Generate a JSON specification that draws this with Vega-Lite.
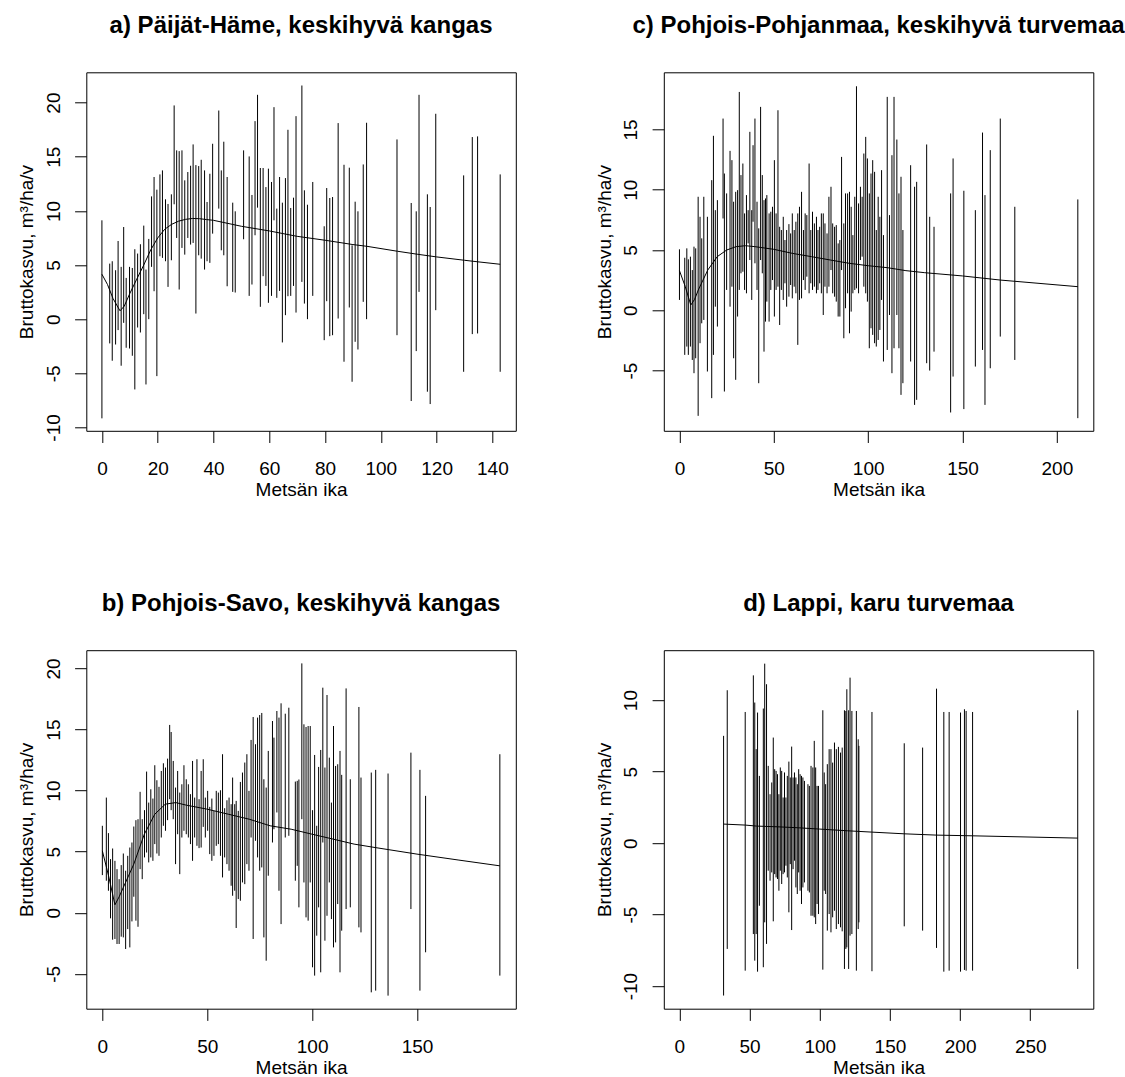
{
  "$schema": "https://vega.github.io/schema/vega-lite/v6.json",
  "autosize": {"type": "none"},
  "padding": {"left": 86.3, "top": 72.3, "right": 1038.7, "bottom": 1004.7},
  "background": "white",
  "columns": 2,
  "spacing": {"row": 218.9, "column": 147.5},
  "bounds": "flush",
  "config": {
    "font": "Liberation Sans",
    "view": {"stroke": "#000", "strokeWidth": 1},
    "axis": {
      "domain": false, "grid": false, "ticks": true,
      "tickColor": "#000", "tickSize": 11.7, "tickWidth": 1,
      "labelFont": "Liberation Sans", "labelFontSize": 19, "labelColor": "#000",
      "labelFlush": false, "labelOverlap": false,
      "titleFont": "Liberation Sans", "titleFontSize": 19, "titleFontWeight": "normal", "titleColor": "#000"
    },
    "axisX": {
      "labelAngle": 0, "labelAlign": "center", "labelBaseline": "alphabetic", "labelPadding": 31.6,
      "titleAlign": "center", "titleBaseline": "alphabetic", "titleX": 214.75, "titleY": 64.5
    },
    "axisY": {
      "labelAngle": 270, "labelAlign": "center", "labelBaseline": "alphabetic", "labelPadding": 15.3,
      "titleAngle": 270, "titleAlign": "center", "titleBaseline": "alphabetic", "titleX": -53.8, "titleY": 179.25
    },
    "title": {"font": "Liberation Sans", "fontSize": 24, "fontWeight": "bold", "color": "#000", "anchor": "middle", "baseline": "alphabetic", "offset": 34}
  },
  "datasets": {
    "a_janat": [
      {"ika": 0, "ala": -9.16, "yla": 9.13}, {"ika": 2.8, "ala": -2.24, "yla": 5.13}, {"ika": 3.7, "ala": -3.84, "yla": 5.35},
      {"ika": 4.9, "ala": -2.34, "yla": 4.52}, {"ika": 5.8, "ala": -1.01, "yla": 7.22}, {"ika": 6.9, "ala": -4.3, "yla": 4.83},
      {"ika": 7.8, "ala": -0.34, "yla": 8.51}, {"ika": 8.7, "ala": -2.64, "yla": 3.81}, {"ika": 9.9, "ala": -2.71, "yla": 4.83},
      {"ika": 10.9, "ala": -3.38, "yla": 4.73}, {"ika": 11.8, "ala": -6.49, "yla": 6.46}, {"ika": 12.8, "ala": -0.77, "yla": 6.06},
      {"ika": 13.8, "ala": -1.23, "yla": 6.92}, {"ika": 15.0, "ala": 0.46, "yla": 8.64}, {"ika": 15.8, "ala": -6.03, "yla": 4.58},
      {"ika": 16.8, "ala": 0.0, "yla": 7.41}, {"ika": 17.8, "ala": 4.83, "yla": 11.34}, {"ika": 18.7, "ala": 2.58, "yla": 13.13},
      {"ika": 19.7, "ala": -5.26, "yla": 11.96}, {"ika": 20.8, "ala": 5.81, "yla": 13.37}, {"ika": 21.7, "ala": 5.66, "yla": 13.74},
      {"ika": 22.8, "ala": 5.35, "yla": 11.07}, {"ika": 23.7, "ala": 2.98, "yla": 10.64}, {"ika": 24.9, "ala": 5.44, "yla": 11.53},
      {"ika": 25.9, "ala": 10.61, "yla": 19.74}, {"ika": 26.8, "ala": 7.5, "yla": 15.59}, {"ika": 27.7, "ala": 2.74, "yla": 15.52},
      {"ika": 28.7, "ala": 6.58, "yla": 15.59}, {"ika": 29.7, "ala": 5.96, "yla": 12.82}, {"ika": 30.8, "ala": 7.5, "yla": 13.59},
      {"ika": 31.8, "ala": 6.89, "yla": 14.17}, {"ika": 32.7, "ala": 7.04, "yla": 16.14}, {"ika": 33.7, "ala": 0.52, "yla": 14.23},
      {"ika": 34.7, "ala": 5.9, "yla": 14.14}, {"ika": 35.6, "ala": 5.59, "yla": 14.72}, {"ika": 36.8, "ala": 4.58, "yla": 13.74},
      {"ika": 37.7, "ala": 5.35, "yla": 10.82}, {"ika": 38.7, "ala": 5.2, "yla": 13.43}, {"ika": 39.7, "ala": 7.9, "yla": 16.2},
      {"ika": 41.9, "ala": 10.21, "yla": 19.27}, {"ika": 42.8, "ala": 6.36, "yla": 13.74}, {"ika": 43.7, "ala": 5.9, "yla": 16.39},
      {"ika": 44.9, "ala": 3.04, "yla": 13.13}, {"ika": 46.9, "ala": 2.52, "yla": 10.76}, {"ika": 47.8, "ala": 2.46, "yla": 9.96},
      {"ika": 50.8, "ala": 7.38, "yla": 15.59}, {"ika": 52.8, "ala": 2.15, "yla": 15.03}, {"ika": 53.8, "ala": 3.2, "yla": 11.47},
      {"ika": 54.9, "ala": 7.75, "yla": 18.29}, {"ika": 55.8, "ala": 10.3, "yla": 20.72}, {"ika": 56.8, "ala": 1.14, "yla": 13.96},
      {"ika": 57.8, "ala": 3.97, "yla": 13.96}, {"ika": 58.8, "ala": 3.07, "yla": 12.2}, {"ika": 59.7, "ala": 1.51, "yla": 13.9},
      {"ika": 60.8, "ala": 2.15, "yla": 12.67}, {"ika": 61.7, "ala": 9.13, "yla": 19.58}, {"ika": 62.7, "ala": 1.97, "yla": 10.21},
      {"ika": 63.7, "ala": 2.61, "yla": 13.13}, {"ika": 64.7, "ala": -2.15, "yla": 10.76}, {"ika": 65.8, "ala": 0.37, "yla": 13.03},
      {"ika": 66.7, "ala": 2.12, "yla": 17.49}, {"ika": 67.7, "ala": 2.15, "yla": 10.27}, {"ika": 68.7, "ala": 3.07, "yla": 11.22},
      {"ika": 69.6, "ala": 0.61, "yla": 18.75}, {"ika": 71.7, "ala": 3.44, "yla": 21.58}, {"ika": 72.6, "ala": 1.44, "yla": 11.9},
      {"ika": 73.7, "ala": 0.0, "yla": 10.57}, {"ika": 75.6, "ala": 2.15, "yla": 12.67}, {"ika": 79.7, "ala": -1.94, "yla": 8.58},
      {"ika": 80.6, "ala": 1.66, "yla": 12.11}, {"ika": 81.7, "ala": -1.57, "yla": 11.19}, {"ika": 82.7, "ala": -1.48, "yla": 11.28},
      {"ika": 84.7, "ala": 0.06, "yla": 18.11}, {"ika": 86.8, "ala": -3.93, "yla": 14.26}, {"ika": 88.7, "ala": 1.08, "yla": 13.99},
      {"ika": 89.7, "ala": -5.78, "yla": 6.82}, {"ika": 90.8, "ala": -2.09, "yla": 10.85}, {"ika": 91.8, "ala": -2.8, "yla": 9.96},
      {"ika": 93.7, "ala": 1.6, "yla": 14.29}, {"ika": 94.9, "ala": 0.0, "yla": 18.14}, {"ika": 105.8, "ala": -1.48, "yla": 16.6},
      {"ika": 110.9, "ala": -7.56, "yla": 10.73}, {"ika": 112.7, "ala": -2.95, "yla": 9.96}, {"ika": 113.7, "ala": 2.52, "yla": 20.72},
      {"ika": 116.7, "ala": -6.7, "yla": 11.53}, {"ika": 117.7, "ala": -7.84, "yla": 10.36}, {"ika": 119.7, "ala": 0.83, "yla": 18.97},
      {"ika": 129.7, "ala": -4.86, "yla": 13.28}, {"ika": 132.8, "ala": -1.38, "yla": 16.82}, {"ika": 134.7, "ala": -1.32, "yla": 16.88},
      {"ika": 142.8, "ala": -4.86, "yla": 13.37}
    ],
    "a_kayra": [
      {"ika": 0, "kasvu": 4.15}, {"ika": 2, "kasvu": 3.2}, {"ika": 4, "kasvu": 1.9}, {"ika": 6.5, "kasvu": 0.77},
      {"ika": 8, "kasvu": 1.2}, {"ika": 10, "kasvu": 2.37}, {"ika": 12.5, "kasvu": 3.7}, {"ika": 15, "kasvu": 5.0},
      {"ika": 17.5, "kasvu": 6.4}, {"ika": 20, "kasvu": 7.5}, {"ika": 22.5, "kasvu": 8.3}, {"ika": 25, "kasvu": 8.76},
      {"ika": 27.5, "kasvu": 9.05}, {"ika": 30, "kasvu": 9.22}, {"ika": 32.5, "kasvu": 9.3}, {"ika": 35, "kasvu": 9.28},
      {"ika": 37.5, "kasvu": 9.2}, {"ika": 40, "kasvu": 9.13}, {"ika": 50, "kasvu": 8.58}, {"ika": 60, "kasvu": 8.15},
      {"ika": 70, "kasvu": 7.65}, {"ika": 80, "kasvu": 7.29}, {"ika": 90, "kasvu": 6.89}, {"ika": 95, "kasvu": 6.73},
      {"ika": 106, "kasvu": 6.27}, {"ika": 113, "kasvu": 6.0}, {"ika": 120, "kasvu": 5.75}, {"ika": 130, "kasvu": 5.44},
      {"ika": 134.7, "kasvu": 5.3}, {"ika": 142.8, "kasvu": 5.07}
    ],
    "b_janat": [
      {"ika": 0, "ala": 3.08, "yla": 7.12}, {"ika": 1.9, "ala": 2.62, "yla": 9.43}, {"ika": 2.9, "ala": 1.8, "yla": 6.52},
      {"ika": 3.9, "ala": -0.46, "yla": 4.39}, {"ika": 4.9, "ala": -2.21, "yla": 5.26}, {"ika": 6.0, "ala": -2.15, "yla": 4.25},
      {"ika": 7.0, "ala": -2.56, "yla": 3.57}, {"ika": 8.0, "ala": -2.56, "yla": 2.75}, {"ika": 9.0, "ala": -1.96, "yla": 3.9},
      {"ika": 10.0, "ala": -2.02, "yla": 4.85}, {"ika": 11.1, "ala": -2.97, "yla": 3.44}, {"ika": 12.1, "ala": -1.34, "yla": 4.66},
      {"ika": 13.1, "ala": -2.84, "yla": 5.34}, {"ika": 14.1, "ala": -0.71, "yla": 5.75}, {"ika": 15.0, "ala": 1.31, "yla": 7.06},
      {"ika": 16.0, "ala": -0.65, "yla": 7.58}, {"ika": 17.0, "ala": -1.15, "yla": 7.66}, {"ika": 18.0, "ala": 3.57, "yla": 9.9},
      {"ika": 19.0, "ala": 2.75, "yla": 7.66}, {"ika": 20.1, "ala": 4.53, "yla": 8.4}, {"ika": 21.1, "ala": 4.93, "yla": 11.56},
      {"ika": 22.1, "ala": 4.12, "yla": 9.02}, {"ika": 23.1, "ala": 4.53, "yla": 10.11}, {"ika": 24.1, "ala": 4.25, "yla": 9.35},
      {"ika": 25.0, "ala": 5.62, "yla": 12.08}, {"ika": 26.0, "ala": 4.85, "yla": 10.85}, {"ika": 27.0, "ala": 4.66, "yla": 10.31},
      {"ika": 28.1, "ala": 6.16, "yla": 11.61}, {"ika": 29.1, "ala": 7.12, "yla": 12.24}, {"ika": 30.1, "ala": 6.71, "yla": 11.89},
      {"ika": 31.1, "ala": 7.58, "yla": 12.62}, {"ika": 32.1, "ala": 9.3, "yla": 15.38}, {"ika": 32.8, "ala": 8.4, "yla": 14.8},
      {"ika": 33.8, "ala": 7.66, "yla": 12.43}, {"ika": 34.9, "ala": 3.98, "yla": 10.25}, {"ika": 35.9, "ala": 6.43, "yla": 11.61},
      {"ika": 36.9, "ala": 3.16, "yla": 9.84}, {"ika": 37.9, "ala": 6.16, "yla": 10.52}, {"ika": 38.9, "ala": 6.71, "yla": 12.08},
      {"ika": 40.0, "ala": 6.43, "yla": 10.93}, {"ika": 41.0, "ala": 6.16, "yla": 10.52}, {"ika": 42.0, "ala": 5.62, "yla": 9.71},
      {"ika": 43.0, "ala": 4.25, "yla": 12.43}, {"ika": 44.0, "ala": 6.16, "yla": 9.43}, {"ika": 45.1, "ala": 5.48, "yla": 12.57},
      {"ika": 46.1, "ala": 5.29, "yla": 9.3}, {"ika": 47.1, "ala": 5.34, "yla": 11.61}, {"ika": 48.1, "ala": 7.03, "yla": 12.57},
      {"ika": 49.1, "ala": 6.16, "yla": 9.43}, {"ika": 50.2, "ala": 6.71, "yla": 9.98}, {"ika": 51.2, "ala": 4.8, "yla": 8.67},
      {"ika": 52.2, "ala": 4.25, "yla": 9.35}, {"ika": 53.2, "ala": 4.66, "yla": 8.34}, {"ika": 54.3, "ala": 5.48, "yla": 9.98},
      {"ika": 55.3, "ala": 5.62, "yla": 9.84}, {"ika": 56.3, "ala": 4.66, "yla": 10.03}, {"ika": 57.3, "ala": 2.89, "yla": 12.98},
      {"ika": 58.3, "ala": 4.53, "yla": 8.56}, {"ika": 59.4, "ala": 3.98, "yla": 9.21}, {"ika": 60.4, "ala": 3.44, "yla": 9.43},
      {"ika": 61.4, "ala": 2.21, "yla": 8.89}, {"ika": 62.1, "ala": 1.39, "yla": 11.07}, {"ika": 63.1, "ala": 1.8, "yla": 8.89},
      {"ika": 63.8, "ala": -1.25, "yla": 9.16}, {"ika": 64.8, "ala": 1.12, "yla": 8.34}, {"ika": 65.8, "ala": 0.98, "yla": 10.71},
      {"ika": 66.8, "ala": 2.48, "yla": 11.48}, {"ika": 67.9, "ala": 2.34, "yla": 12.3}, {"ika": 68.9, "ala": 3.98, "yla": 12.98},
      {"ika": 69.9, "ala": 3.44, "yla": 9.98}, {"ika": 70.9, "ala": 6.16, "yla": 14.15}, {"ika": 71.9, "ala": -2.15, "yla": 16.03},
      {"ika": 73.0, "ala": 5.89, "yla": 13.8}, {"ika": 74.0, "ala": 4.53, "yla": 15.98}, {"ika": 75.0, "ala": 3.44, "yla": 16.19},
      {"ika": 76.0, "ala": 3.71, "yla": 16.36}, {"ika": 77.0, "ala": -2.02, "yla": 10.93}, {"ika": 78.1, "ala": -3.93, "yla": 10.25},
      {"ika": 79.1, "ala": 3.03, "yla": 13.25}, {"ika": 81.1, "ala": 5.75, "yla": 15.7}, {"ika": 81.8, "ala": 6.84, "yla": 14.34},
      {"ika": 83.2, "ala": 8.21, "yla": 16.52}, {"ika": 84.2, "ala": 1.8, "yla": 15.98}, {"ika": 85.2, "ala": -0.93, "yla": 17.15},
      {"ika": 87.2, "ala": 6.16, "yla": 16.3}, {"ika": 88.9, "ala": 6.3, "yla": 16.79}, {"ika": 92.0, "ala": 2.62, "yla": 10.74},
      {"ika": 92.9, "ala": 3.84, "yla": 10.8}, {"ika": 93.7, "ala": 0.44, "yla": 10.91}, {"ika": 95.1, "ala": 7.66, "yla": 20.42},
      {"ika": 96.1, "ala": 2.48, "yla": 15.43}, {"ika": 97.1, "ala": -0.38, "yla": 15.21}, {"ika": 98.1, "ala": -0.65, "yla": 15.29},
      {"ika": 99.1, "ala": 2.48, "yla": 15.29}, {"ika": 100.2, "ala": -4.47, "yla": 8.4}, {"ika": 101.2, "ala": -5.15, "yla": 12.92},
      {"ika": 102.2, "ala": -1.88, "yla": 7.12}, {"ika": 103.1, "ala": 0.44, "yla": 11.94}, {"ika": 104.1, "ala": -4.88, "yla": 13.33},
      {"ika": 105.1, "ala": 5.75, "yla": 18.43}, {"ika": 106.1, "ala": -2.29, "yla": 11.89}, {"ika": 107.1, "ala": -0.25, "yla": 17.83},
      {"ika": 108.2, "ala": 2.48, "yla": 12.7}, {"ika": 109.2, "ala": -0.52, "yla": 9.02}, {"ika": 110.2, "ala": -2.84, "yla": 15.29},
      {"ika": 111.2, "ala": -2.43, "yla": 12.02}, {"ika": 112.2, "ala": 0.71, "yla": 12.16}, {"ika": 113.3, "ala": -4.88, "yla": 13.25},
      {"ika": 114.1, "ala": -1.47, "yla": 11.29}, {"ika": 116.2, "ala": 0.3, "yla": 18.37}, {"ika": 118.2, "ala": 0.44, "yla": 10.93},
      {"ika": 122.3, "ala": -1.2, "yla": 16.85}, {"ika": 123.3, "ala": -1.61, "yla": 11.07}, {"ika": 128.2, "ala": -6.52, "yla": 11.48},
      {"ika": 130.3, "ala": -6.38, "yla": 11.7}, {"ika": 136.2, "ala": -6.79, "yla": 11.4}, {"ika": 147.1, "ala": 0.3, "yla": 13.11},
      {"ika": 151.4, "ala": -6.38, "yla": 11.7}, {"ika": 154.1, "ala": -3.24, "yla": 9.57}, {"ika": 189.5, "ala": -5.15, "yla": 12.98}
    ],
    "b_kayra": [
      {"ika": 0, "kasvu": 5.07}, {"ika": 3, "kasvu": 3.0}, {"ika": 6, "kasvu": 0.65}, {"ika": 8, "kasvu": 1.3},
      {"ika": 10, "kasvu": 2.07}, {"ika": 15, "kasvu": 3.98}, {"ika": 20, "kasvu": 6.43}, {"ika": 25, "kasvu": 8.07},
      {"ika": 30, "kasvu": 8.89}, {"ika": 35, "kasvu": 9.02}, {"ika": 40, "kasvu": 8.81}, {"ika": 50, "kasvu": 8.48},
      {"ika": 60, "kasvu": 8.07}, {"ika": 70, "kasvu": 7.66}, {"ika": 80, "kasvu": 7.12}, {"ika": 90, "kasvu": 6.84},
      {"ika": 100, "kasvu": 6.43}, {"ika": 110, "kasvu": 6.03}, {"ika": 120, "kasvu": 5.62}, {"ika": 130, "kasvu": 5.34},
      {"ika": 150, "kasvu": 4.8}, {"ika": 170, "kasvu": 4.31}, {"ika": 189.5, "kasvu": 3.84}
    ],
    "c_janat": [
      {"ika": 0, "ala": 0.86, "yla": 5.06}, {"ika": 2.8, "ala": -3.7, "yla": 4.36}, {"ika": 3.9, "ala": -3.01, "yla": 5.14},
      {"ika": 4.7, "ala": -3.7, "yla": 4.23}, {"ika": 5.8, "ala": -3.01, "yla": 4.45}, {"ika": 6.8, "ala": -4.12, "yla": 3.34},
      {"ika": 7.7, "ala": -5.22, "yla": 5.28}, {"ika": 8.6, "ala": -3.98, "yla": 5.14}, {"ika": 9.9, "ala": -8.76, "yla": 9.42},
      {"ika": 10.9, "ala": -2.73, "yla": 7.76}, {"ika": 11.8, "ala": -1.08, "yla": 5.97}, {"ika": 12.9, "ala": -0.8, "yla": 9.42},
      {"ika": 14.8, "ala": -5.08, "yla": 7.76}, {"ika": 17.1, "ala": -7.29, "yla": 10.8}, {"ika": 18.0, "ala": -3.7, "yla": 14.48},
      {"ika": 19.0, "ala": 0.3, "yla": 8.31}, {"ika": 20.1, "ala": -1.35, "yla": 9.14}, {"ika": 23.1, "ala": 7.62, "yla": 15.91},
      {"ika": 23.8, "ala": -6.74, "yla": 11.35}, {"ika": 25.0, "ala": 1.69, "yla": 9.7}, {"ika": 26.8, "ala": 0.3, "yla": 13.23},
      {"ika": 27.8, "ala": 1.96, "yla": 12.46}, {"ika": 28.7, "ala": -3.98, "yla": 9.01}, {"ika": 29.8, "ala": -5.77, "yla": 9.83},
      {"ika": 30.8, "ala": -0.52, "yla": 9.97}, {"ika": 31.7, "ala": 1.69, "yla": 18.12}, {"ika": 32.6, "ala": 3.07, "yla": 11.22},
      {"ika": 33.6, "ala": 3.2, "yla": 12.18}, {"ika": 34.5, "ala": 1.69, "yla": 8.04}, {"ika": 35.5, "ala": 1.41, "yla": 9.56},
      {"ika": 36.4, "ala": 5.55, "yla": 8.31}, {"ika": 37.3, "ala": 4.17, "yla": 14.81}, {"ika": 38.3, "ala": 0.86, "yla": 8.31},
      {"ika": 39.0, "ala": 7.35, "yla": 13.7}, {"ika": 40.0, "ala": 3.9, "yla": 15.91}, {"ika": 41.1, "ala": 1.69, "yla": 9.01},
      {"ika": 42.0, "ala": -6.05, "yla": 6.8}, {"ika": 43.0, "ala": 4.17, "yla": 16.88}, {"ika": 43.9, "ala": 3.07, "yla": 11.22},
      {"ika": 44.8, "ala": -3.43, "yla": 9.14}, {"ika": 45.6, "ala": -0.94, "yla": 9.28}, {"ika": 46.3, "ala": 0.72, "yla": 9.56},
      {"ika": 47.5, "ala": -0.94, "yla": 8.04}, {"ika": 48.4, "ala": 1.69, "yla": 8.18}, {"ika": 49.3, "ala": 2.51, "yla": 8.59},
      {"ika": 50.3, "ala": -0.52, "yla": 12.46}, {"ika": 51.2, "ala": 1.69, "yla": 8.04}, {"ika": 52.2, "ala": 1.96, "yla": 16.6},
      {"ika": 53.1, "ala": -1.22, "yla": 6.93}, {"ika": 54.0, "ala": 1.69, "yla": 6.66}, {"ika": 55.0, "ala": 0.86, "yla": 7.76},
      {"ika": 55.9, "ala": 2.24, "yla": 5.83}, {"ika": 56.8, "ala": 0.3, "yla": 6.66}, {"ika": 58.0, "ala": 1.13, "yla": 7.15},
      {"ika": 58.9, "ala": 2.1, "yla": 6.38}, {"ika": 59.8, "ala": 0.99, "yla": 8.04}, {"ika": 60.8, "ala": 1.96, "yla": 6.66},
      {"ika": 61.7, "ala": 1.41, "yla": 7.35}, {"ika": 62.7, "ala": -2.87, "yla": 8.04}, {"ika": 63.6, "ala": 0.86, "yla": 8.59},
      {"ika": 64.7, "ala": 0.99, "yla": 9.83}, {"ika": 65.7, "ala": 2.51, "yla": 6.66}, {"ika": 66.6, "ala": 1.69, "yla": 8.04},
      {"ika": 67.5, "ala": 2.79, "yla": 7.9}, {"ika": 68.7, "ala": 1.41, "yla": 12.18}, {"ika": 69.6, "ala": 2.24, "yla": 6.66},
      {"ika": 70.5, "ala": 1.69, "yla": 8.18}, {"ika": 71.5, "ala": 1.96, "yla": 7.21}, {"ika": 72.6, "ala": 1.41, "yla": 7.76},
      {"ika": 73.4, "ala": 1.69, "yla": 6.66}, {"ika": 74.3, "ala": 2.24, "yla": 6.93}, {"ika": 75.2, "ala": 1.41, "yla": 8.04},
      {"ika": 76.2, "ala": -0.39, "yla": 8.04}, {"ika": 77.1, "ala": 1.96, "yla": 7.21}, {"ika": 78.2, "ala": 1.41, "yla": 6.38},
      {"ika": 79.2, "ala": 1.96, "yla": 9.42}, {"ika": 80.3, "ala": 3.34, "yla": 10.25}, {"ika": 81.2, "ala": 1.41, "yla": 7.21},
      {"ika": 82.2, "ala": 1.13, "yla": 6.93}, {"ika": 83.1, "ala": 0.72, "yla": 7.07}, {"ika": 84.1, "ala": -0.52, "yla": 5.55},
      {"ika": 85.0, "ala": -0.52, "yla": 5.83}, {"ika": 85.9, "ala": 3.34, "yla": 12.73}, {"ika": 87.1, "ala": -2.32, "yla": 7.21},
      {"ika": 88.0, "ala": 0.17, "yla": 9.7}, {"ika": 89.1, "ala": 1.41, "yla": 9.7}, {"ika": 90.1, "ala": -1.91, "yla": 9.83},
      {"ika": 91.0, "ala": -0.11, "yla": 8.59}, {"ika": 91.9, "ala": 1.41, "yla": 6.24}, {"ika": 92.9, "ala": 1.69, "yla": 9.42},
      {"ika": 93.8, "ala": 1.82, "yla": 18.59}, {"ika": 94.9, "ala": 1.41, "yla": 8.87}, {"ika": 95.9, "ala": 4.17, "yla": 10.25},
      {"ika": 96.8, "ala": 4.45, "yla": 9.42}, {"ika": 97.7, "ala": 1.96, "yla": 13.01}, {"ika": 98.7, "ala": 1.41, "yla": 14.39},
      {"ika": 99.6, "ala": 0.72, "yla": 12.6}, {"ika": 100.6, "ala": -3.15, "yla": 9.7}, {"ika": 101.5, "ala": -1.49, "yla": 11.35},
      {"ika": 102.4, "ala": -2.04, "yla": 12.46}, {"ika": 103.4, "ala": -2.73, "yla": 11.49}, {"ika": 104.3, "ala": -3.01, "yla": 6.66},
      {"ika": 105.3, "ala": -2.46, "yla": 9.42}, {"ika": 106.2, "ala": -1.63, "yla": 7.76}, {"ika": 107.1, "ala": 0.86, "yla": 11.63},
      {"ika": 108.1, "ala": -4.25, "yla": 6.24}, {"ika": 110.1, "ala": -3.29, "yla": 17.71}, {"ika": 111.3, "ala": -0.39, "yla": 7.9},
      {"ika": 112.6, "ala": -5.22, "yla": 12.87}, {"ika": 113.7, "ala": -3.15, "yla": 17.71}, {"ika": 115.2, "ala": -0.39, "yla": 14.17},
      {"ika": 116.3, "ala": -3.15, "yla": 9.7}, {"ika": 117.4, "ala": -7.02, "yla": 11.08}, {"ika": 118.4, "ala": -6.05, "yla": 6.66},
      {"ika": 122.5, "ala": -4.25, "yla": 12.04}, {"ika": 124.6, "ala": -7.85, "yla": 10.25}, {"ika": 125.7, "ala": -7.43, "yla": 10.66},
      {"ika": 131.0, "ala": -4.39, "yla": 13.76}, {"ika": 132.6, "ala": -5.0, "yla": 7.76}, {"ika": 134.9, "ala": -3.43, "yla": 6.93},
      {"ika": 143.7, "ala": -8.48, "yla": 9.7}, {"ika": 145.0, "ala": -5.5, "yla": 12.6}, {"ika": 150.7, "ala": -8.2, "yla": 9.92},
      {"ika": 156.8, "ala": -4.67, "yla": 8.31}, {"ika": 160.6, "ala": -3.29, "yla": 14.75}, {"ika": 161.9, "ala": -7.85, "yla": 9.56},
      {"ika": 164.7, "ala": -4.81, "yla": 13.29}, {"ika": 170.0, "ala": -2.18, "yla": 15.91}, {"ika": 177.7, "ala": -4.12, "yla": 8.59},
      {"ika": 211.1, "ala": -8.95, "yla": 9.2}
    ],
    "c_kayra": [
      {"ika": 0, "kasvu": 3.29}, {"ika": 3, "kasvu": 2.0}, {"ika": 6, "kasvu": 0.44}, {"ika": 8, "kasvu": 0.9},
      {"ika": 10, "kasvu": 1.69}, {"ika": 15, "kasvu": 3.34}, {"ika": 20, "kasvu": 4.45}, {"ika": 25, "kasvu": 5.0},
      {"ika": 30, "kasvu": 5.28}, {"ika": 35, "kasvu": 5.36}, {"ika": 40, "kasvu": 5.28}, {"ika": 50, "kasvu": 5.06},
      {"ika": 60, "kasvu": 4.72}, {"ika": 70, "kasvu": 4.45}, {"ika": 80, "kasvu": 4.17}, {"ika": 90, "kasvu": 3.9},
      {"ika": 100, "kasvu": 3.7}, {"ika": 110, "kasvu": 3.54}, {"ika": 120, "kasvu": 3.29}, {"ika": 130, "kasvu": 3.12},
      {"ika": 150, "kasvu": 2.85}, {"ika": 170, "kasvu": 2.51}, {"ika": 211.1, "kasvu": 1.96}
    ],
    "d_janat": [
      {"ika": 31.5, "ala": -10.66, "yla": 7.5}, {"ika": 34.1, "ala": -7.4, "yla": 10.69}, {"ika": 46.9, "ala": -8.92, "yla": 9.17},
      {"ika": 52.7, "ala": -6.36, "yla": 11.73}, {"ika": 53.7, "ala": -8.22, "yla": 9.83}, {"ika": 54.7, "ala": -6.36, "yla": 6.57},
      {"ika": 55.7, "ala": -8.99, "yla": 9.13}, {"ika": 57.0, "ala": -4.38, "yla": 4.7}, {"ika": 59.8, "ala": -8.68, "yla": 9.41},
      {"ika": 60.8, "ala": -5.54, "yla": 12.55}, {"ika": 62.1, "ala": -7.05, "yla": 11.11}, {"ika": 63.3, "ala": -1.93, "yla": 5.4},
      {"ika": 64.6, "ala": -2.63, "yla": 3.42}, {"ika": 65.8, "ala": -2.05, "yla": 4.24}, {"ika": 66.9, "ala": -5.47, "yla": 7.38},
      {"ika": 67.9, "ala": -2.17, "yla": 5.17}, {"ika": 68.9, "ala": -2.4, "yla": 5.05}, {"ika": 69.9, "ala": -2.51, "yla": 4.82},
      {"ika": 70.9, "ala": -3.33, "yla": 3.42}, {"ika": 71.9, "ala": -1.93, "yla": 5.29}, {"ika": 72.9, "ala": -2.86, "yla": 5.05},
      {"ika": 73.9, "ala": -2.17, "yla": 3.19}, {"ika": 74.9, "ala": -2.05, "yla": 4.94}, {"ika": 75.9, "ala": -1.58, "yla": 3.19},
      {"ika": 76.9, "ala": -2.4, "yla": 4.7}, {"ika": 78.0, "ala": -4.84, "yla": 5.7}, {"ika": 79.0, "ala": -1.47, "yla": 4.59},
      {"ika": 80.0, "ala": -6.08, "yla": 6.75}, {"ika": 81.0, "ala": -1.82, "yla": 4.59}, {"ika": 82.0, "ala": -1.23, "yla": 4.94},
      {"ika": 83.0, "ala": -3.1, "yla": 4.59}, {"ika": 84.0, "ala": -3.56, "yla": 4.12}, {"ika": 85.0, "ala": -2.05, "yla": 5.17},
      {"ika": 86.0, "ala": -3.33, "yla": 4.82}, {"ika": 87.0, "ala": -4.26, "yla": 4.7}, {"ika": 88.0, "ala": -3.1, "yla": 4.59},
      {"ika": 89.1, "ala": -2.75, "yla": 4.35}, {"ika": 91.6, "ala": -3.33, "yla": 4.12}, {"ika": 92.6, "ala": -3.45, "yla": 4.0},
      {"ika": 93.8, "ala": -5.08, "yla": 5.4}, {"ika": 95.1, "ala": -5.08, "yla": 5.29}, {"ika": 96.1, "ala": -5.19, "yla": 7.15},
      {"ika": 97.1, "ala": -5.66, "yla": 5.29}, {"ika": 98.1, "ala": -4.26, "yla": 4.0}, {"ika": 99.1, "ala": -4.96, "yla": 4.0},
      {"ika": 102.2, "ala": -8.85, "yla": 9.29}, {"ika": 103.2, "ala": -3.33, "yla": 4.94}, {"ika": 104.2, "ala": -3.56, "yla": 4.12},
      {"ika": 105.4, "ala": -6.12, "yla": 5.52}, {"ika": 106.7, "ala": -4.96, "yla": 6.57}, {"ika": 108.0, "ala": -6.24, "yla": 6.57},
      {"ika": 109.2, "ala": -5.19, "yla": 5.63}, {"ika": 110.5, "ala": -4.73, "yla": 7.03}, {"ika": 111.8, "ala": -6.01, "yla": 6.57},
      {"ika": 113.3, "ala": -5.66, "yla": 6.73}, {"ika": 114.8, "ala": -5.89, "yla": 6.33}, {"ika": 116.0, "ala": -6.17, "yla": 6.68},
      {"ika": 117.6, "ala": -8.8, "yla": 9.29}, {"ika": 118.6, "ala": -7.4, "yla": 9.24}, {"ika": 119.3, "ala": -7.29, "yla": 10.76},
      {"ika": 120.6, "ala": -8.8, "yla": 9.29}, {"ika": 121.6, "ala": -6.47, "yla": 11.57}, {"ika": 122.9, "ala": -6.36, "yla": 9.24},
      {"ika": 126.1, "ala": -8.92, "yla": 9.24}, {"ika": 127.4, "ala": -6.01, "yla": 7.26}, {"ika": 127.9, "ala": -5.54, "yla": 6.8},
      {"ika": 137.2, "ala": -8.96, "yla": 9.17}, {"ika": 160.2, "ala": -5.82, "yla": 6.98}, {"ika": 173.3, "ala": -6.12, "yla": 6.68},
      {"ika": 183.2, "ala": -7.33, "yla": 10.8}, {"ika": 188.4, "ala": -8.99, "yla": 9.17}, {"ika": 192.2, "ala": -8.92, "yla": 9.17},
      {"ika": 200.3, "ala": -8.99, "yla": 9.13}, {"ika": 203.1, "ala": -8.87, "yla": 9.36}, {"ika": 204.3, "ala": -8.92, "yla": 9.24},
      {"ika": 208.9, "ala": -8.92, "yla": 9.17}, {"ika": 283.8, "ala": -8.8, "yla": 9.29}
    ],
    "d_kayra": [
      {"ika": 31.5, "kasvu": 1.33}, {"ika": 47, "kasvu": 1.26}, {"ika": 55, "kasvu": 1.19}, {"ika": 70, "kasvu": 1.14},
      {"ika": 85, "kasvu": 1.07}, {"ika": 100, "kasvu": 0.98}, {"ika": 120, "kasvu": 0.86}, {"ika": 137, "kasvu": 0.77},
      {"ika": 160, "kasvu": 0.65}, {"ika": 183, "kasvu": 0.56}, {"ika": 209, "kasvu": 0.51}, {"ika": 283.8, "kasvu": 0.35}
    ]
  },
  "concat": [
    {
      "title": {"text": "a) Päijät-Häme, keskihyvä kangas"},
      "width": 429.5, "height": 358.5,
      "layer": [
        {
          "data": {"name": "a_janat"},
          "mark": {"type": "rule", "color": "#000", "strokeWidth": 1},
          "encoding": {
            "x": {"field": "ika", "type": "quantitative", "scale": {"domain": [-5.6, 148.4], "nice": false, "zero": false},
                  "axis": {"values": [0, 20, 40, 60, 80, 100, 120, 140], "title": "Metsän ika", "labelExpr": "replace(datum.label, '−', '-')"}},
            "y": {"field": "ala", "type": "quantitative", "scale": {"domain": [-10.31, 22.8], "nice": false, "zero": false},
                  "axis": {"values": [-10, -5, 0, 5, 10, 15, 20], "title": "Bruttokasvu, m³/ha/v", "labelExpr": "replace(datum.label, '−', '-')"}},
            "y2": {"field": "yla"}
          }
        },
        {
          "data": {"name": "a_kayra"},
          "mark": {"type": "line", "color": "#000", "strokeWidth": 1},
          "encoding": {
            "x": {"field": "ika", "type": "quantitative", "scale": {"domain": [-5.6, 148.4], "nice": false, "zero": false}},
            "y": {"field": "kasvu", "type": "quantitative", "scale": {"domain": [-10.31, 22.8], "nice": false, "zero": false}}
          }
        }
      ]
    },
    {
      "title": {"text": "c) Pohjois-Pohjanmaa, keskihyvä turvemaa"},
      "width": 429.5, "height": 358.5,
      "layer": [
        {
          "data": {"name": "c_janat"},
          "mark": {"type": "rule", "color": "#000", "strokeWidth": 1},
          "encoding": {
            "x": {"field": "ika", "type": "quantitative", "scale": {"domain": [-8.3, 219.3], "nice": false, "zero": false},
                  "axis": {"values": [0, 50, 100, 150, 200], "title": "Metsän ika", "labelExpr": "replace(datum.label, '−', '-')"}},
            "y": {"field": "ala", "type": "quantitative", "scale": {"domain": [-10.0, 19.75], "nice": false, "zero": false},
                  "axis": {"values": [-5, 0, 5, 10, 15], "title": "Bruttokasvu, m³/ha/v", "labelExpr": "replace(datum.label, '−', '-')"}},
            "y2": {"field": "yla"}
          }
        },
        {
          "data": {"name": "c_kayra"},
          "mark": {"type": "line", "color": "#000", "strokeWidth": 1},
          "encoding": {
            "x": {"field": "ika", "type": "quantitative", "scale": {"domain": [-8.3, 219.3], "nice": false, "zero": false}},
            "y": {"field": "kasvu", "type": "quantitative", "scale": {"domain": [-10.0, 19.75], "nice": false, "zero": false}}
          }
        }
      ]
    },
    {
      "title": {"text": "b) Pohjois-Savo, keskihyvä kangas"},
      "width": 429.5, "height": 358.5,
      "layer": [
        {
          "data": {"name": "b_janat"},
          "mark": {"type": "rule", "color": "#000", "strokeWidth": 1},
          "encoding": {
            "x": {"field": "ika", "type": "quantitative", "scale": {"domain": [-7.65, 197.1], "nice": false, "zero": false},
                  "axis": {"values": [0, 50, 100, 150], "title": "Metsän ika", "labelExpr": "replace(datum.label, '−', '-')"}},
            "y": {"field": "ala", "type": "quantitative", "scale": {"domain": [-7.86, 21.5], "nice": false, "zero": false},
                  "axis": {"values": [-5, 0, 5, 10, 15, 20], "title": "Bruttokasvu, m³/ha/v", "labelExpr": "replace(datum.label, '−', '-')"}},
            "y2": {"field": "yla"}
          }
        },
        {
          "data": {"name": "b_kayra"},
          "mark": {"type": "line", "color": "#000", "strokeWidth": 1},
          "encoding": {
            "x": {"field": "ika", "type": "quantitative", "scale": {"domain": [-7.65, 197.1], "nice": false, "zero": false}},
            "y": {"field": "kasvu", "type": "quantitative", "scale": {"domain": [-7.86, 21.5], "nice": false, "zero": false}}
          }
        }
      ]
    },
    {
      "title": {"text": "d) Lappi, karu turvemaa"},
      "width": 429.5, "height": 358.5,
      "layer": [
        {
          "data": {"name": "d_janat"},
          "mark": {"type": "rule", "color": "#000", "strokeWidth": 1},
          "encoding": {
            "x": {"field": "ika", "type": "quantitative", "scale": {"domain": [-11.1, 294.9], "nice": false, "zero": false},
                  "axis": {"values": [0, 50, 100, 150, 200, 250], "title": "Metsän ika", "labelExpr": "replace(datum.label, '−', '-')"}},
            "y": {"field": "ala", "type": "quantitative", "scale": {"domain": [-11.58, 13.49], "nice": false, "zero": false},
                  "axis": {"values": [-10, -5, 0, 5, 10], "title": "Bruttokasvu, m³/ha/v", "labelExpr": "replace(datum.label, '−', '-')"}},
            "y2": {"field": "yla"}
          }
        },
        {
          "data": {"name": "d_kayra"},
          "mark": {"type": "line", "color": "#000", "strokeWidth": 1},
          "encoding": {
            "x": {"field": "ika", "type": "quantitative", "scale": {"domain": [-11.1, 294.9], "nice": false, "zero": false}},
            "y": {"field": "kasvu", "type": "quantitative", "scale": {"domain": [-11.58, 13.49], "nice": false, "zero": false}}
          }
        }
      ]
    }
  ]
}
